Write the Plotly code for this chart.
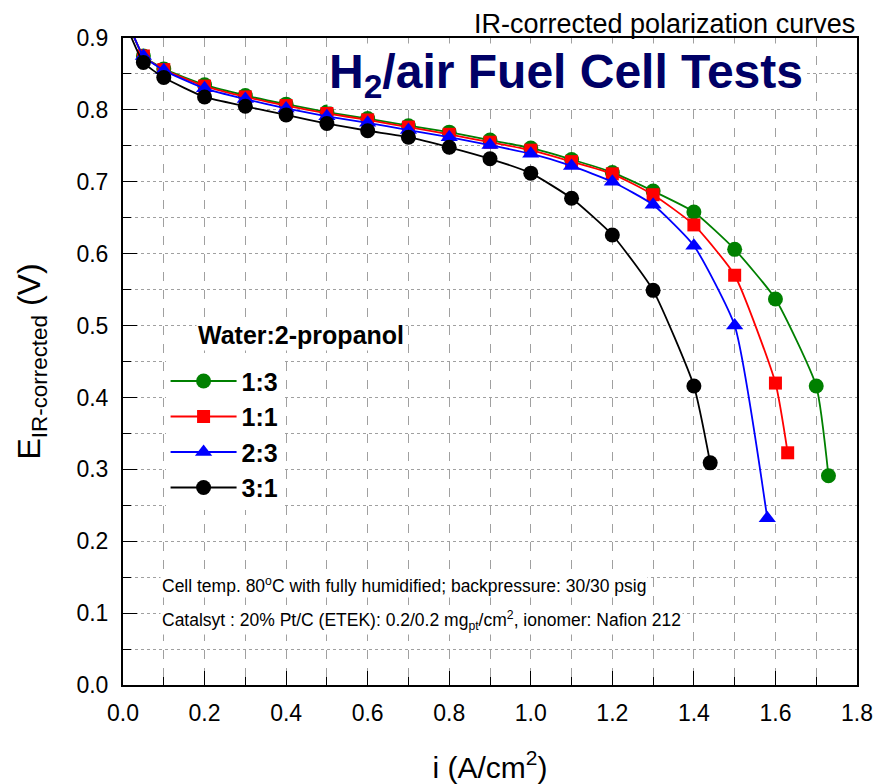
import plotly.graph_objects as go

# ---- data ----
i_green = [0.01, 0.05, 0.1, 0.2, 0.3, 0.4, 0.5, 0.6, 0.7, 0.8, 0.9, 1.0, 1.1, 1.2, 1.3, 1.4, 1.5, 1.6, 1.7, 1.73]
e_green = [0.925, 0.875, 0.857, 0.835, 0.820, 0.808, 0.797, 0.788, 0.778, 0.769, 0.758, 0.747, 0.731, 0.713, 0.687, 0.658, 0.606, 0.537, 0.416, 0.291]

i_red = [0.01, 0.05, 0.1, 0.2, 0.3, 0.4, 0.5, 0.6, 0.7, 0.8, 0.9, 1.0, 1.1, 1.2, 1.3, 1.4, 1.5, 1.6, 1.63]
e_red = [0.925, 0.875, 0.856, 0.833, 0.818, 0.806, 0.795, 0.786, 0.776, 0.766, 0.755, 0.744, 0.728, 0.711, 0.682, 0.640, 0.570, 0.420, 0.323]

i_blue = [0.01, 0.05, 0.1, 0.2, 0.3, 0.4, 0.5, 0.6, 0.7, 0.8, 0.9, 1.0, 1.1, 1.2, 1.3, 1.4, 1.5, 1.58]
e_blue = [0.925, 0.875, 0.855, 0.830, 0.815, 0.802, 0.791, 0.782, 0.772, 0.762, 0.751, 0.739, 0.722, 0.700, 0.668, 0.611, 0.500, 0.232]

i_black = [0.01, 0.05, 0.1, 0.2, 0.3, 0.4, 0.5, 0.6, 0.7, 0.8, 0.9, 1.0, 1.1, 1.2, 1.3, 1.4, 1.44]
e_black = [0.915, 0.866, 0.845, 0.818, 0.805, 0.793, 0.781, 0.771, 0.762, 0.748, 0.732, 0.712, 0.677, 0.626, 0.549, 0.416, 0.309]

series = [
    ("1:3", i_green, e_green, "#008000", "circle", 15),
    ("1:1", i_red, e_red, "#ff0000", "square", 13),
    ("2:3", i_blue, e_blue, "#0000ff", "triangle-up", 15),
    ("3:1", i_black, e_black, "#000000", "circle", 15),
]

x_ticks = [0.0, 0.2, 0.4, 0.6, 0.8, 1.0, 1.2, 1.4, 1.6, 1.8]
y_ticks = [0.0, 0.1, 0.2, 0.3, 0.4, 0.5, 0.6, 0.7, 0.8, 0.9]

FONT = "Liberation Sans, Arial, sans-serif"

fig = go.Figure()
for name, xs, ys, col, sym, sz in series:
    fig.add_trace(go.Scatter(
        x=xs, y=ys, name=name, mode="lines+markers",
        line=dict(color=col, width=1.8, shape="spline", smoothing=0.5),
        marker=dict(color=col, symbol=sym, size=sz, line=dict(width=0)),
    ))

fig.update_layout(
    width=878, height=784,
    margin=dict(l=123, r=21, t=38, b=99),
    paper_bgcolor="white", plot_bgcolor="white",
    font=dict(family=FONT, color="black"),
    showlegend=True,
    legend=dict(
        x=0.058, y=0.505, xanchor="left", yanchor="top",
        bgcolor="white", borderwidth=0,
        font=dict(family=FONT, size=25, color="black", weight="bold"),
        tracegroupgap=0, itemwidth=66,
    ),
    xaxis=dict(
        range=[0, 1.8], tickvals=x_ticks, ticktext=[f"{v:.1f}" for v in x_ticks],
        ticks="inside", ticklen=14, tickwidth=1.2, tickcolor="black",
        showline=True, linecolor="black", linewidth=2, mirror=True,
        showgrid=True, gridcolor="#a0a0a0", griddash="dash", gridwidth=1,
        minor=dict(dtick=0.1, tick0=0, ticks="inside", ticklen=8, tickcolor="black",
                   showgrid=True, gridcolor="#a0a0a0", griddash="dash", gridwidth=1),
        tickfont=dict(family=FONT, size=23), ticklabelstandoff=6,
        title=dict(text="i (A/cm<sup>2</sup>)", font=dict(family=FONT, size=30), standoff=32),
        zeroline=False, automargin=False,
    ),
    yaxis=dict(
        range=[0, 0.9], tickvals=y_ticks, ticktext=[f"{v:.1f}" for v in y_ticks],
        ticks="inside", ticklen=14, tickwidth=1.2, tickcolor="black",
        showline=True, linecolor="black", linewidth=2, mirror=True,
        showgrid=True, gridcolor="#a0a0a0", griddash="dot", gridwidth=1,
        minor=dict(dtick=0.05, tick0=0, ticks="inside", ticklen=8, tickcolor="black",
                   showgrid=True, gridcolor="#a0a0a0", griddash="dot", gridwidth=1),
        tickfont=dict(family=FONT, size=23), ticklabelstandoff=8,
        title=dict(text="E<sub>IR-corrected</sub> (V)", font=dict(family=FONT, size=32), standoff=26),
        zeroline=False, automargin=False,
    ),
)

fig.add_annotation(
    x=1.0, y=1.0, xref="paper", yref="paper", xanchor="right", yanchor="bottom",
    text="IR-corrected polarization curves", showarrow=False,
    font=dict(family=FONT, size=27, color="black"), yshift=-3,
)
fig.add_annotation(
    x=0.604, y=0.943, xref="paper", yref="paper", xanchor="center", yanchor="middle",
    text="H<sub>2</sub>/air Fuel Cell Tests", showarrow=False, bgcolor="white",
    font=dict(family=FONT, size=48, color="#000066", weight="bold"),
)
fig.add_annotation(
    x=0.100, y=0.541, xref="paper", yref="paper", xanchor="left", yanchor="middle",
    text="Water:2-propanol", showarrow=False, bgcolor="white",
    font=dict(family=FONT, size=25, color="black", weight="bold"),
)
fig.add_annotation(
    x=0.05, y=0.155, xref="paper", yref="paper", xanchor="left", yanchor="middle",
    text="Cell temp. 80<sup>o</sup>C with fully humidified; backpressure: 30/30 psig",
    showarrow=False, bgcolor="white",
    font=dict(family=FONT, size=17.5, color="black"),
)
fig.add_annotation(
    x=0.05, y=0.1, xref="paper", yref="paper", xanchor="left", yanchor="middle",
    text="Catalsyt : 20% Pt/C (ETEK): 0.2/0.2 mg<sub>pt</sub>/cm<sup>2</sup>, ionomer: Nafion 212",
    showarrow=False, bgcolor="white",
    font=dict(family=FONT, size=17.5, color="black"),
)

fig.write_html("out.html")
